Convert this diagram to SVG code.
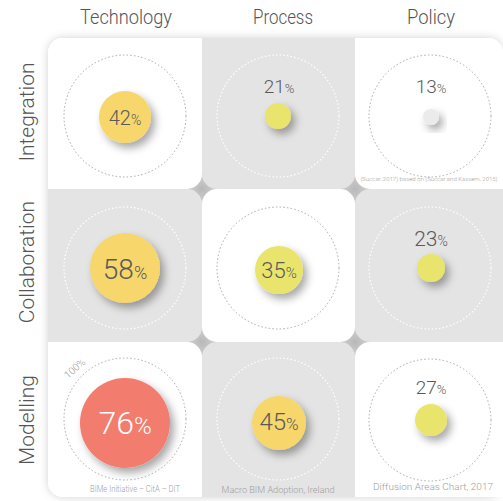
<svg xmlns="http://www.w3.org/2000/svg" width="503" height="501" viewBox="0 0 503 501">
<defs>
<style>
.hdr{font-family:"Roboto","Liberation Sans",sans-serif;font-weight:300;font-size:21px;fill:#555;text-anchor:middle}
.pct{font-family:"Roboto","Liberation Sans",sans-serif;font-weight:300;fill:#5a5a5a;text-anchor:middle}
.cred{font-family:"Roboto","Liberation Sans",sans-serif;font-weight:300;fill:#a0a0a0;text-anchor:middle}
.white{fill:#ffffff}
.grey{fill:#e4e4e4}
.dotw{fill:none;stroke:#a8a8a8;stroke-width:1;stroke-dasharray:1.5 2.2}
.dotg{fill:none;stroke:#ffffff;stroke-width:1.2;stroke-dasharray:1.5 2.2}
.star{fill:url(#starg)}
</style>
<radialGradient id="starg" cx="0.5" cy="0.5" r="0.5">
<stop offset="0" stop-color="#b8b8b8"/>
<stop offset="1" stop-color="#d4d4d4"/>
</radialGradient>
<filter id="gridsh" x="-10%" y="-10%" width="120%" height="120%">
<feDropShadow dx="0" dy="0" stdDeviation="4" flood-color="#000" flood-opacity="0.18"/>
</filter>
<filter id="ballsh" x="-50%" y="-50%" width="200%" height="200%">
<feDropShadow dx="4" dy="5" stdDeviation="4" flood-color="#000" flood-opacity="0.35"/>
</filter>
</defs>
<rect width="503" height="501" fill="#ffffff"/>

<g id="headers">
<text class="hdr" x="126" y="24" textLength="92" lengthAdjust="spacingAndGlyphs">Technology</text>
<text class="hdr" x="283" y="24" textLength="60" lengthAdjust="spacingAndGlyphs">Process</text>
<text class="hdr" x="431" y="24" textLength="48" lengthAdjust="spacingAndGlyphs">Policy</text>
<text class="hdr" transform="translate(34,112) rotate(-90)">Integration</text>
<text class="hdr" transform="translate(34,262) rotate(-90)">Collaboration</text>
<text class="hdr" transform="translate(34,420) rotate(-90)">Modelling</text>
</g>

<g id="grid-frame">
<rect x="48" y="38" width="455" height="459" rx="15" fill="#ffffff" filter="url(#gridsh)"/>
<circle class="star" cx="202" cy="189" r="16"/>
<circle class="star" cx="355" cy="189" r="16"/>
<circle class="star" cx="202" cy="342" r="16"/>
<circle class="star" cx="355" cy="342" r="16"/>
</g>

<g id="cell-tech-integration">
<path class="white" d="M63,38 H202 V174 A15,15 0 0 1 187,189 H48 V53 A15,15 0 0 1 63,38 Z"/>
<circle class="dotw" cx="125" cy="116" r="61"/>
<circle cx="125" cy="117" r="26" fill="#f7d66c" filter="url(#ballsh)"/>
<text class="pct" x="125" y="125" font-size="20">42<tspan font-size="14">%</tspan></text>
</g>

<g id="cell-process-integration">
<path class="grey" d="M202,38 H355 V174 A15,15 0 0 1 340,189 H217 A15,15 0 0 1 202,174 Z"/>
<circle class="dotg" cx="278" cy="116" r="61"/>
<circle cx="278" cy="116" r="13" fill="#e9e46c" filter="url(#ballsh)"/>
<text class="pct" x="279" y="93" font-size="19">21<tspan font-size="13">%</tspan></text>
</g>

<g id="cell-policy-integration">
<path class="white" d="M355,38 H488 A15,15 0 0 1 503,53 V189 H370 A15,15 0 0 1 355,174 Z"/>
<circle class="dotw" cx="430" cy="116" r="61"/>
<circle cx="431" cy="117" r="8" fill="#ebebeb" filter="url(#ballsh)"/>
<text class="pct" x="431" y="93" font-size="19">13<tspan font-size="13">%</tspan></text>
<text class="cred" x="429" y="181" font-size="6">(Succar, 2017) based on (Succar and Kassem, 2015)</text>
</g>

<g id="cell-tech-collaboration">
<path class="grey" d="M48,189 H187 A15,15 0 0 1 202,204 V327 A15,15 0 0 1 187,342 H48 Z"/>
<circle class="dotg" cx="125" cy="268" r="61"/>
<circle cx="125" cy="268" r="35" fill="#f7d66c" filter="url(#ballsh)"/>
<text class="pct" x="125" y="279" font-size="28">58<tspan font-size="18">%</tspan></text>
</g>

<g id="cell-process-collaboration">
<rect class="white" x="202" y="189" width="153" height="153" rx="15"/>
<circle class="dotw" cx="278" cy="268" r="61"/>
<circle cx="279" cy="270" r="24" fill="#e9e46c" filter="url(#ballsh)"/>
<text class="pct" x="279" y="278" font-size="22">35<tspan font-size="15">%</tspan></text>
</g>

<g id="cell-policy-collaboration">
<path class="grey" d="M370,189 H503 V342 H370 A15,15 0 0 1 355,327 V204 A15,15 0 0 1 370,189 Z"/>
<circle class="dotg" cx="430" cy="268" r="61"/>
<circle cx="431" cy="268" r="14" fill="#e9e46c" filter="url(#ballsh)"/>
<text class="pct" x="431" y="246" font-size="21">23<tspan font-size="14">%</tspan></text>
</g>

<g id="cell-tech-modelling">
<path class="white" d="M48,342 H187 A15,15 0 0 1 202,357 V497 H63 A15,15 0 0 1 48,482 Z"/>
<circle class="dotw" cx="125" cy="419" r="61"/>
<text class="cred" font-size="10" transform="translate(77,371) rotate(-42)">100%</text>
<circle cx="125" cy="423" r="45" fill="#f27d6e" filter="url(#ballsh)"/>
<text class="pct" x="125" y="434" font-size="32" style="fill:#ffffff">76<tspan font-size="24">%</tspan></text>
<text class="cred" x="135" y="492" font-size="9" textLength="90" lengthAdjust="spacingAndGlyphs">BIMe Initiative – CitA – DIT</text>
</g>

<g id="cell-process-modelling">
<path class="grey" d="M217,342 H340 A15,15 0 0 1 355,357 V497 H202 V357 A15,15 0 0 1 217,342 Z"/>
<circle class="dotg" cx="278" cy="419" r="61"/>
<circle cx="279" cy="423" r="27" fill="#f7d66c" filter="url(#ballsh)"/>
<text class="pct" x="279" y="430" font-size="24">45<tspan font-size="17">%</tspan></text>
<text class="cred" x="278" y="493" font-size="9" textLength="113" lengthAdjust="spacingAndGlyphs">Macro BIM Adoption, Ireland</text>
</g>

<g id="cell-policy-modelling">
<path class="white" d="M370,342 H503 V497 H355 V357 A15,15 0 0 1 370,342 Z"/>
<circle class="dotw" cx="430" cy="420" r="61"/>
<circle cx="431" cy="420" r="16" fill="#e9e46c" filter="url(#ballsh)"/>
<text class="pct" x="431" y="394" font-size="19">27<tspan font-size="13">%</tspan></text>
<text class="cred" x="433" y="490" font-size="9" textLength="120" lengthAdjust="spacingAndGlyphs">Diffusion Areas Chart, 2017</text>
</g>
</svg>
